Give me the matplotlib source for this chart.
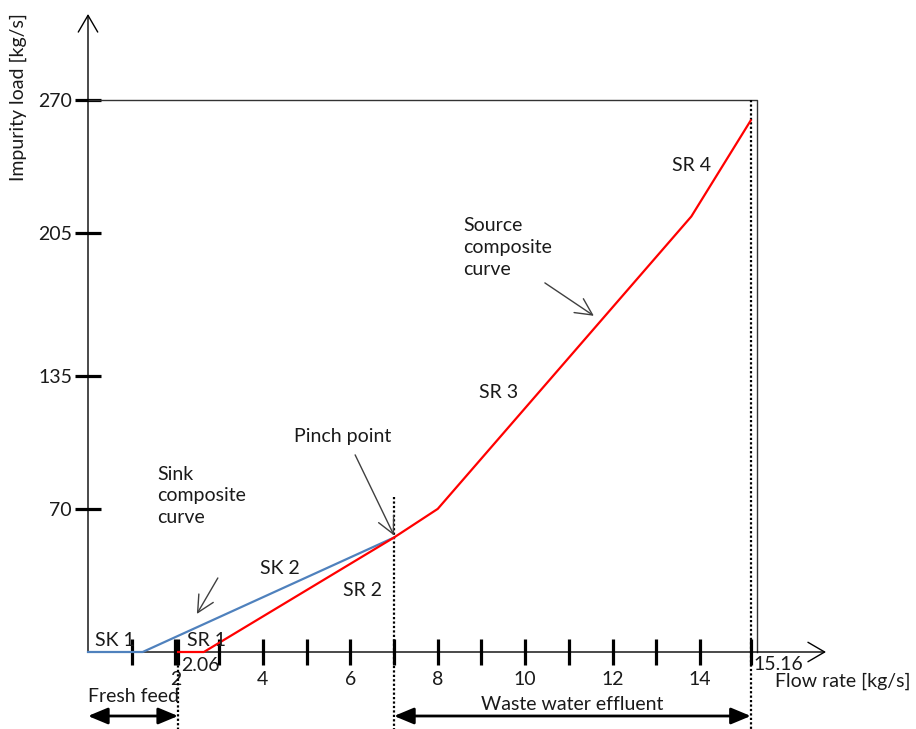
import matplotlib.pyplot as plt

plt.rcParams['font.family'] = ['Lato', 'DejaVu Sans']

# flow rate ticks [kg/s] and which ones carry a label
flow_ticks = [1, 2, 2.06, 3, 4, 5, 6, 7, 8, 9, 10, 11, 12, 13, 14, 15.16]
flow_labels = ['', '2', '', '', '4', '', '6', '', '8', '', '10', '', '12', '', '14', '']
load_ticks = [70, 135, 205, 270]

# sink composite curve (SK 1, SK 2)
sink_x = [0, 1.25, 7.0]
sink_y = [0, 0, 56]

# source composite curve (SR 1 .. SR 4)
source_x = [2.06, 2.65, 7.0, 8.0, 13.8, 15.16]
source_y = [0, 0, 56, 70, 213, 260]

fresh_feed = 2.06
pinch_x, pinch_y = 7.0, 56
total_flow = 15.16
box_right = 15.3
box_top = 270

txt = '#1a1a1a'
fs = 14

fig = plt.figure(figsize=(9.16, 7.29), dpi=100)
ax = fig.add_axes([88 / 916, 77 / 729, 738 / 916, 638 / 729])
ax.set_xlim(0, 16.88)
ax.set_ylim(0, 312)
for s in ax.spines.values():
    s.set_visible(False)

# axes with open arrow heads
arrow_kw = dict(arrowstyle='->, head_length=0.6, head_width=0.35', color='black',
                lw=1, shrinkA=0, shrinkB=0, mutation_scale=20)
ax.annotate('', xy=(1, 0), xytext=(0, 0), xycoords='axes fraction', arrowprops=arrow_kw)
ax.annotate('', xy=(0, 1), xytext=(0, 0), xycoords='axes fraction', arrowprops=arrow_kw)

ax.set_xticks(flow_ticks)
ax.set_xticklabels(flow_labels)
ax.set_yticks(load_ticks)
ax.set_yticklabels([str(v) for v in load_ticks])
ax.tick_params(axis='both', direction='inout', length=19, width=2.3, labelsize=fs,
               labelcolor=txt, color='black')
ax.tick_params(axis='x', pad=4)
ax.tick_params(axis='y', pad=2)

# frame of the diagram
ax.plot([0, box_right, box_right], [box_top, box_top, 0], color='#333333', lw=1, clip_on=False)

# composite curves
ax.plot(sink_x, sink_y, color='#4F81BD', lw=1.6, clip_on=False, zorder=3)
ax.plot(source_x, source_y, color='#FF0000', lw=1.6, clip_on=False, zorder=3)

# dotted guide lines
dot = dict(color='black', lw=1.6, linestyle=(0, (1, 1)), clip_on=False)
ax.plot([fresh_feed, fresh_feed], [0, -40], **dot)
ax.plot([pinch_x, pinch_x], [76, -40], **dot)
ax.plot([total_flow, total_flow], [box_top, -40], **dot)

ax.annotate('2.06', xy=(fresh_feed, 0), xytext=(2, -10), textcoords='offset points',
            ha='left', va='center', fontsize=fs, color=txt)
ax.annotate('15.16', xy=(total_flow, 0), xytext=(2, -9), textcoords='offset points',
            ha='left', va='center', fontsize=fs, color=txt)

fig.text(18 / 916, 1 - 97 / 729, 'Impurity load [kg/s]', rotation=90, ha='center',
         va='center', fontsize=fs, color=txt)
fig.text(775 / 916, 1 - 681 / 729, 'Flow rate [kg/s]', ha='left', va='center',
         fontsize=fs, color=txt)

# segment labels
for label, x, y in [('SK 1', 0.62, 5.4), ('SR 1', 2.72, 5.4), ('SK 2', 4.39, 40.6),
                    ('SR 2', 6.27, 30.3), ('SR 3', 9.40, 126.7), ('SR 4', 13.81, 237.8)]:
    ax.text(x, y, label, ha='center', va='center', fontsize=fs, color=txt)

# callouts
call = dict(arrowstyle='->, head_length=0.6, head_width=0.3', color='#404040', lw=1,
            shrinkA=0, shrinkB=0, mutation_scale=20)
ax.text(5.83, 105.2, 'Pinch point', ha='center', va='center', fontsize=fs, color=txt)
ax.annotate('', xy=(pinch_x, pinch_y + 1), xytext=(6.11, 96.4), arrowprops=call)
ax.text(1.58, 76.3, 'Sink\ncomposite\ncurve', ha='left', va='center', fontsize=fs,
        color=txt, linespacing=1.35)
ax.annotate('', xy=(2.49, 18.6), xytext=(2.97, 36.2), arrowprops=call)
ax.text(8.58, 198, 'Source\ncomposite\ncurve', ha='left', va='center', fontsize=fs,
        color=txt, linespacing=1.35)
ax.annotate('', xy=(11.57, 164.4), xytext=(10.45, 180.5), arrowprops=call)

# fresh feed and waste water spans below the axis
span = dict(arrowstyle='<|-|>, head_length=0.6, head_width=0.25', color='black', lw=2,
            shrinkA=0, shrinkB=0, mutation_scale=20)
ax.annotate('', xy=(0, 13), xytext=(fresh_feed, 13), xycoords=('data', 'figure pixels'),
            textcoords=('data', 'figure pixels'), arrowprops=span)
ax.annotate('', xy=(pinch_x, 13), xytext=(total_flow, 13), xycoords=('data', 'figure pixels'),
            textcoords=('data', 'figure pixels'), arrowprops=span)
ax.annotate('Fresh feed', xy=(fresh_feed / 2, 32), xycoords=('data', 'figure pixels'),
            ha='center', va='center', fontsize=fs, color=txt)
ax.annotate('Waste water effluent', xy=((pinch_x + total_flow) / 2, 25),
            xycoords=('data', 'figure pixels'), ha='center', va='center', fontsize=fs, color=txt)

fig.savefig('out.png', dpi=100)
